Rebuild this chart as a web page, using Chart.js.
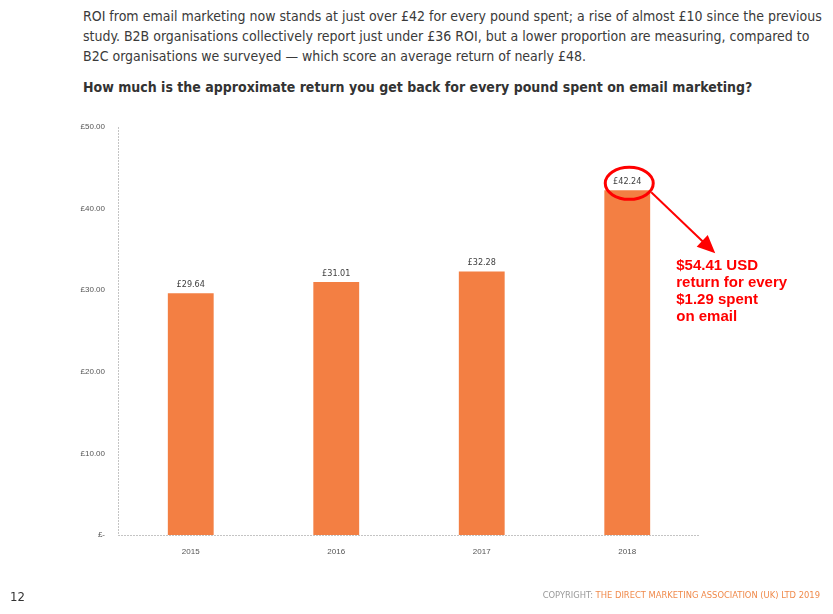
<!DOCTYPE html>
<html>
<head>
<meta charset="utf-8">
<script src="https://cdn.jsdelivr.net/npm/chart.js@4.4.0/dist/chart.umd.min.js"></script>
<style>
  body { margin: 0; background: #fff; }
  #page { position: relative; width: 833px; height: 614px; overflow: hidden;
          font-family: "DejaVu Sans Condensed", "Open Sans", sans-serif; }
  .line { position: absolute; left: 83px; white-space: nowrap; color: #3a3a3a; font-size: 14px; }
  .q { font-weight: bold; color: #333; }
  #pg { position: absolute; left: 10px; top: 589px; font-size: 13px; color: #333; }
  #copy { position: absolute; right: 13px; top: 589px; font-size: 9.3px; color: #f08a4b; white-space: nowrap; }
  #copy span { color: #999; }
  canvas { position: absolute; left: 0; top: 0; }
</style>
</head>
<body>
<div id="page">
  <div class="line" style="top:8px">ROI from email marketing now stands at just over £42 for every pound spent; a rise of almost £10 since the previous</div>
  <div class="line" style="top:28px">study. B2B organisations collectively report just under £36 ROI, but a lower proportion are measuring, compared to</div>
  <div class="line" style="top:48px">B2C organisations we surveyed — which score an average return of nearly £48.</div>
  <div class="line q" style="top:79px">How much is the approximate return you get back for every pound spent on email marketing?</div>
  <canvas id="roiChart" width="833" height="614"></canvas>
  <div id="pg">12</div>
  <div id="copy"><span>COPYRIGHT:</span> THE DIRECT MARKETING ASSOCIATION (UK) LTD 2019</div>
</div>
<script>
var years = ['2015', '2016', '2017', '2018'];
var roiValues = [29.64, 31.01, 32.28, 42.24];
var noteLines = ['$54.41 USD', 'return for every', '$1.29 spent', 'on email'];

var barColor = '#f37f43';

// dotted grey axis lines
var dottedAxes = {
    id: 'dottedAxes',
    beforeDatasetsDraw: function (chart) {
        var ctx = chart.ctx, a = chart.chartArea;
        ctx.save();
        ctx.strokeStyle = '#c4c4c4';
        ctx.lineWidth = 1;
        ctx.setLineDash([2, 1]);
        ctx.beginPath();
        ctx.moveTo(a.left + 0.5, a.top);
        ctx.lineTo(a.left + 0.5, a.bottom);
        ctx.moveTo(a.left, a.bottom + 0.5);
        ctx.lineTo(a.right, a.bottom + 0.5);
        ctx.stroke();
        ctx.restore();
    }
};

// value labels above each bar
var valueLabels = {
    id: 'valueLabels',
    afterDatasetsDraw: function (chart) {
        var ctx = chart.ctx;
        var meta = chart.getDatasetMeta(0);
        ctx.save();
        ctx.font = '9px "DejaVu Sans Condensed", sans-serif';
        ctx.fillStyle = '#404040';
        ctx.textAlign = 'center';
        ctx.textBaseline = 'bottom';
        meta.data.forEach(function (bar, i) {
            ctx.fillText('£' + roiValues[i].toFixed(2), bar.x, bar.y - 4);
        });
        ctx.restore();
    }
};

// red circle, arrow and note on the last bar
var redNote = {
    id: 'redNote',
    afterDraw: function (chart) {
        var ctx = chart.ctx;
        var bar = chart.getDatasetMeta(0).data[3];
        var cx = bar.x + 2, cy = bar.y - 7;
        ctx.save();
        ctx.strokeStyle = '#ff0000';
        ctx.fillStyle = '#ff0000';
        ctx.lineWidth = 3;
        ctx.beginPath();
        ctx.ellipse(cx, cy, 24, 16, 0, 0, Math.PI * 2);
        ctx.stroke();

        var x1 = cx + 22, y1 = cy + 9, x2 = cx + 86, y2 = cy + 70;
        var ang = Math.atan2(y2 - y1, x2 - x1);
        ctx.lineWidth = 2;
        ctx.beginPath();
        ctx.moveTo(x1, y1);
        ctx.lineTo(x2 - 10 * Math.cos(ang), y2 - 10 * Math.sin(ang));
        ctx.stroke();
        ctx.beginPath();
        ctx.moveTo(x2, y2);
        ctx.lineTo(x2 - 18 * Math.cos(ang) + 8 * Math.sin(ang), y2 - 18 * Math.sin(ang) - 8 * Math.cos(ang));
        ctx.lineTo(x2 - 18 * Math.cos(ang) - 8 * Math.sin(ang), y2 - 18 * Math.sin(ang) + 8 * Math.cos(ang));
        ctx.closePath();
        ctx.fill();

        ctx.font = 'bold 15px "Liberation Sans", Arial, sans-serif';
        ctx.textAlign = 'left';
        ctx.textBaseline = 'alphabetic';
        noteLines.forEach(function (t, i) {
            ctx.fillText(t, cx + 47, cy + 87 + i * 17);
        });
        ctx.restore();
    }
};

var roiChart = new Chart(document.getElementById('roiChart'), {
    type: 'bar',
    data: {
        labels: years,
        datasets: [{
            data: roiValues,
            backgroundColor: barColor,
            barPercentage: 0.315,
            categoryPercentage: 1
        }]
    },
    options: {
        responsive: false,
        animation: false,
        layout: { padding: { left: 0, right: 133, top: 127, bottom: 59 } },
        plugins: { legend: { display: false }, tooltip: { enabled: false } },
        scales: {
            x: {
                grid: { display: false },
                border: { display: false },
                ticks: { color: '#555', font: { size: 8 }, padding: 4 },
                afterFit: function (s) { s.height = 20; }
            },
            y: {
                min: 0,
                max: 50,
                grid: { display: false },
                border: { display: false },
                ticks: {
                    stepSize: 10,
                    color: '#555',
                    font: { size: 8 },
                    padding: 5,
                    callback: function (v) { return v === 0 ? '£-' : '£' + v.toFixed(2); }
                },
                afterFit: function (s) { s.width = 118; }
            }
        }
    },
    plugins: [dottedAxes, valueLabels, redNote]
});
</script>
</body>
</html>
